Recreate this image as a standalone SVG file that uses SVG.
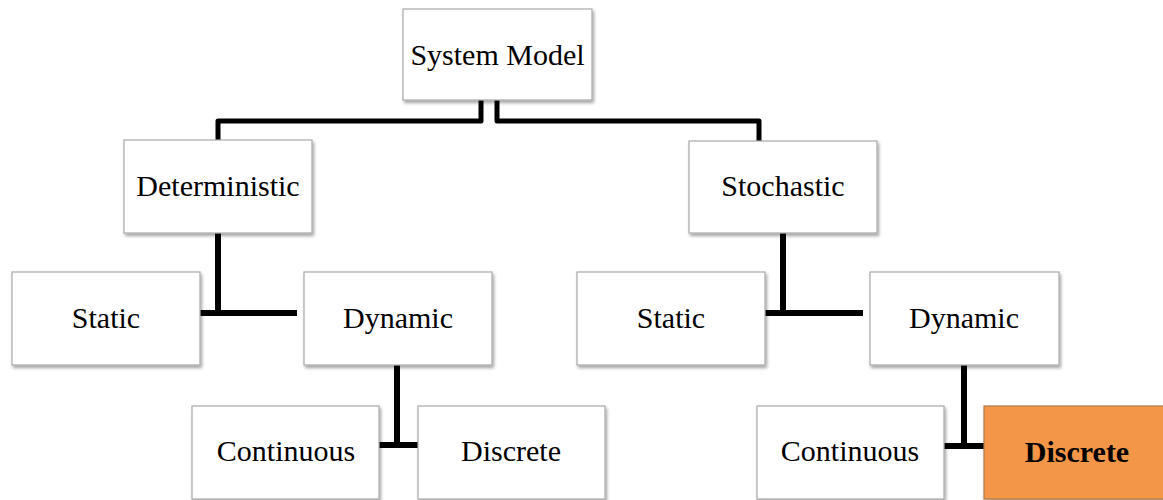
<svg xmlns="http://www.w3.org/2000/svg" width="1163" height="500" viewBox="0 0 1163 500">
<defs>
<filter id="sh" x="-10%" y="-10%" width="125%" height="130%">
<feDropShadow dx="1.5" dy="2.5" stdDeviation="1.8" flood-color="#000" flood-opacity="0.35"/>
</filter>
<style>
.box{fill:#fff;stroke:#a8a8a8;stroke-width:1.2;filter:url(#sh)}
.hl{fill:#F39646;stroke:#b07a4a;stroke-width:1.2;filter:url(#sh)}
.lbl{font-family:"Liberation Serif","Times New Roman",serif;font-size:30px;fill:#000;text-anchor:middle}
.b{font-weight:bold}
.c{fill:none;stroke:#000;stroke-width:6;stroke-linejoin:round}
.t{fill:none;stroke:#000;stroke-width:5;stroke-linejoin:round}
</style>
</defs>
<rect width="1163" height="500" fill="#fff"/>
<g id="connectors">
<path class="t" d="M481,100 V121 H218 V140"/>
<path class="t" d="M497,100 V121 H759 V141"/>
<path class="c" d="M218,233 V313"/>
<path class="c" d="M200,313 H297"/>
<path class="c" d="M397,365 V445"/>
<path class="c" d="M379,445 H418"/>
<path class="c" d="M783,233 V313"/>
<path class="c" d="M765,313 H863"/>
<path class="c" d="M964,365 V446"/>
<path class="c" d="M944,446 H984"/>
</g>
<g id="system-model"><rect class="box" x="403" y="9" width="189" height="91"/><text class="lbl" x="497.5" y="65">System Model</text></g>
<g id="deterministic"><rect class="box" x="124" y="140" width="188" height="93"/><text class="lbl" x="218" y="196">Deterministic</text></g>
<g id="stochastic"><rect class="box" x="689" y="141" width="188" height="92"/><text class="lbl" x="783" y="196">Stochastic</text></g>
<g id="static-det"><rect class="box" x="12" y="272" width="188" height="93"/><text class="lbl" x="106" y="328">Static</text></g>
<g id="dynamic-det"><rect class="box" x="304" y="272" width="188" height="93"/><text class="lbl" x="398" y="328">Dynamic</text></g>
<g id="static-sto"><rect class="box" x="577" y="272" width="188" height="93"/><text class="lbl" x="671" y="328">Static</text></g>
<g id="dynamic-sto"><rect class="box" x="870" y="272" width="189" height="93"/><text class="lbl" x="964" y="328">Dynamic</text></g>
<g id="continuous-det"><rect class="box" x="192" y="406" width="187" height="93"/><text class="lbl" x="286" y="461">Continuous</text></g>
<g id="discrete-det"><rect class="box" x="418" y="406" width="187" height="93"/><text class="lbl" x="511" y="461">Discrete</text></g>
<g id="continuous-sto"><rect class="box" x="757" y="406" width="187" height="93"/><text class="lbl" x="850" y="461">Continuous</text></g>
<g id="discrete-sto"><rect class="hl" x="984" y="406" width="188" height="93"/><text class="lbl b" x="1077" y="462">Discrete</text></g>
</svg>
